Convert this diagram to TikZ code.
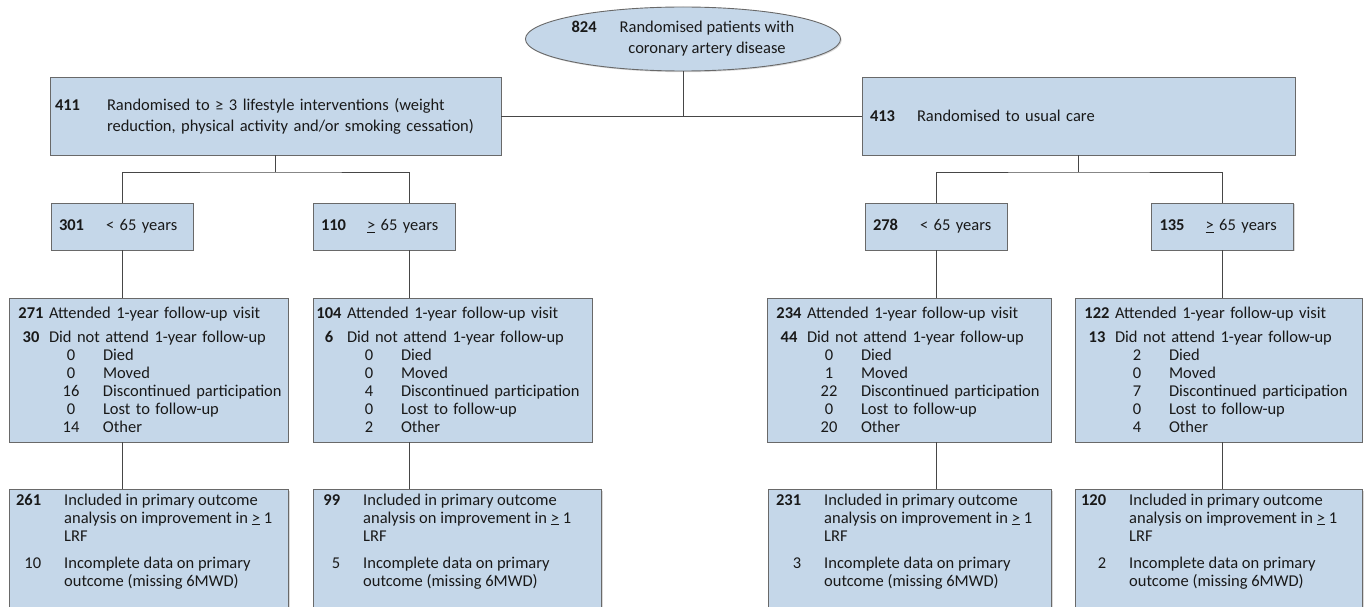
\documentclass[tikz,border=0pt]{standalone}
\usepackage{fontspec}
\setmainfont{Carlito}
\usetikzlibrary{positioning,shapes.geometric,shadows}
\definecolor{boxfill}{RGB}{197,215,233}
\definecolor{boxline}{RGB}{105,105,105}
\definecolor{linkgray}{RGB}{70,70,70}
\definecolor{inkgray}{RGB}{25,25,25}
\newcommand{\furow}[2]{\hspace*{44pt}\mbox{\makebox[20pt][c]{#1}\hspace{22pt}#2}}
\newcommand{\fulines}[7]{%
\hbadness=10000 \hfuzz=40pt
\mbox{\makebox[28pt][c]{\textbf{#1}}\hspace{4pt}Attended 1-year follow-up visit}\\[6pt]
\mbox{\makebox[28pt][c]{\textbf{#2}}\hspace{4pt}Did not attend 1-year follow-up}\\
\furow{#3}{Died}\\
\furow{#4}{Moved}\\
\furow{#5}{Discontinued participation}\\
\furow{#6}{Lost to follow-up}\\
\furow{#7}{Other}}
\newcommand{\outlines}[2]{%
\makebox[24pt][r]{\textbf{#1}}\hspace{23pt}Included in primary outcome\\
\hspace*{47pt}analysis on improvement in \underline{>} 1\\
\hspace*{47pt}LRF\\[9pt]
\makebox[24pt][r]{#2}\hspace{23pt}Incomplete data on primary\\
\hspace*{47pt}outcome (missing 6MWD)}

\begin{document}
\begin{tikzpicture}[
  x=1pt, y=-1pt,
  font=\fontsize{16.5}{18}\selectfont, text=inkgray,
  box/.style={draw=boxline,line width=0.9pt,fill=boxfill,drop shadow={shadow xshift=1.2pt,shadow yshift=-1.2pt,opacity=0.3}},
  oval/.style={box,ellipse,minimum width=312pt,minimum height=64pt,inner sep=0pt},
  topbox/.style={box,align=left,minimum height=78pt,inner xsep=8pt,inner ysep=0pt},
  agebox/.style={box,align=left,minimum width=142pt,minimum height=47pt,text width=126pt,inner xsep=8pt,inner ysep=0pt},
  fubox/.style={box,align=left,minimum height=144pt,inner xsep=8pt,inner ysep=0pt},
  outbox/.style={box,anchor=north west,minimum height=170pt},
  outtext/.style={anchor=north west,inner sep=0pt,align=left},
  link/.style={draw=linkgray,line width=0.8pt}
]
\useasboundingbox (0,0) rectangle (1370,607);
\clip (0,0) rectangle (1370,607);

\node[oval] (rand) at (683,39) {\textbf{824}\hspace{23pt}\begin{tabular}[t]{@{}c@{}}Randomised patients with\\[3pt]coronary artery disease\end{tabular}};

\node[topbox,minimum width=451pt,text width=441pt,inner xsep=5pt] (interv) at (275.5,116) {\makebox[52pt][l]{\textbf{411}}Randomised to ≥ 3 lifestyle interventions (weight\\[3pt]\hspace*{52pt}reduction, physical activity and/or smoking cessation)};
\node[topbox,minimum width=433pt,text width=417pt] (usual) at (1078.5,116) {\makebox[47pt][l]{\textbf{413}}Randomised to usual care};

\node[agebox] (young1) at (122,226.5) {\makebox[47pt][l]{\textbf{301}}< 65 years};
\node[agebox] (old1) at (384,226.5) {\makebox[46pt][l]{\textbf{110}}\underline{>} 65 years};
\node[agebox] (young2) at (936,226.5) {\makebox[47pt][l]{\textbf{278}}< 65 years};
\node[agebox] (old2) at (1222.5,226.5) {\makebox[46pt][l]{\textbf{135}}\underline{>} 65 years};
\coordinate (tapB) at ([xshift=25pt]old1.south);

\node[fubox,minimum width=279pt,text width=263pt] (fu1) at (148.5,370) {\fulines{271}{30}{0}{0}{16}{0}{14}};
\node[fubox,minimum width=279pt,text width=275pt,inner xsep=2pt] (fu2) at (452.5,370) {\fulines{104}{6}{0}{0}{4}{0}{2}};
\node[fubox,minimum width=284pt,text width=268pt] (fu3) at (909,370) {\fulines{234}{44}{0}{1}{22}{0}{20}};
\node[fubox,minimum width=287pt,text width=271pt] (fu4) at (1218.5,370) {\fulines{122}{13}{2}{0}{7}{0}{4}};

\node[outbox,minimum width=279pt] (out1) at (9,489) {};
\node[outtext] (out1txt) at ([shift={(8,4.5)}]out1.north west) {\outlines{261}{10}};
\node[outbox,minimum width=288pt] (out2) at (313,489) {};
\node[outtext] (out2txt) at ([shift={(3,4.5)}]out2.north west) {\outlines{99}{5}};
\node[outbox,minimum width=283pt] (out3) at (768,489) {};
\node[outtext] (out3txt) at ([shift={(9,4.5)}]out3.north west) {\outlines{231}{3}};
\node[outbox,minimum width=287pt] (out4) at (1075,489) {};
\node[outtext] (out4txt) at ([shift={(7,4.5)}]out4.north west) {\outlines{120}{2}};

\coordinate (forkL) at (275.5,172);
\coordinate (forkR) at (1078.5,172);
\draw[link] (rand.south) -- (rand.south |- interv.east);
\draw[link] (interv.east) -- (usual.west);
\draw[link] (interv.south) -- (forkL);
\draw[link] (young1.north) |- (forkL) -| ([xshift=25pt]old1.north);
\draw[link] (usual.south) -- (forkR);
\draw[link] (young2.north) |- (forkR) -| (old2.north);

\draw[link] (young1.south) -- (young1.south |- fu1.north);
\draw[link] (tapB) -- (tapB |- fu2.north);
\draw[link] (young2.south) -- (young2.south |- fu3.north);
\draw[link] (old2.south) -- (old2.south |- fu4.north);
\draw[link] (young1.south |- fu1.south) -- (young1.south |- out1.north);
\draw[link] (tapB |- fu2.south) -- (tapB |- out2.north);
\draw[link] (young2.south |- fu3.south) -- (young2.south |- out3.north);
\draw[link] (old2.south |- fu4.south) -- (old2.south |- out4.north);
\end{tikzpicture}
\end{document}
